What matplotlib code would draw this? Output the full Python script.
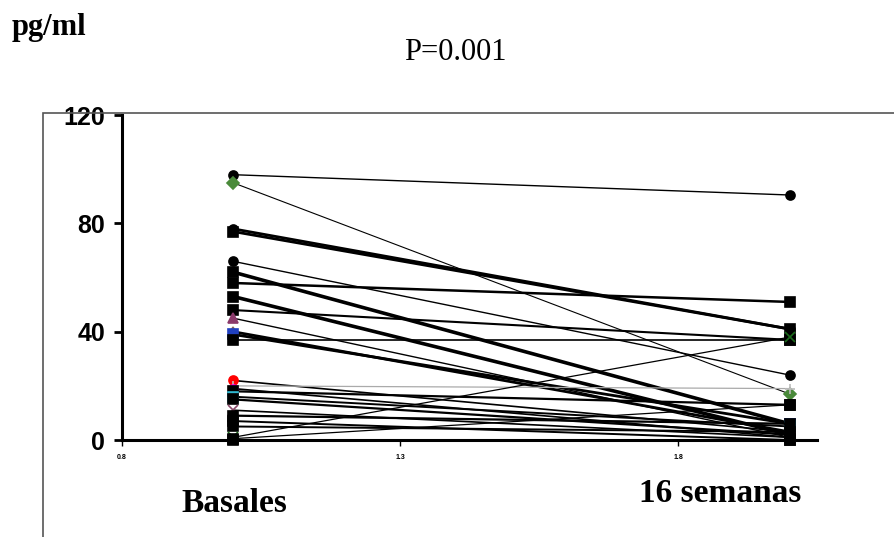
import matplotlib.pyplot as plt
from matplotlib.patches import Rectangle

# pg/ml por paciente: basal y a las 16 semanas
basales = [98, 95, 78, 77, 66, 62, 58, 53, 48, 45, 40, 39, 37, 22, 20, 19, 18, 16, 15, 11, 9, 7, 5, 1, 0.5, 0]
semana16 = [90.5, 17, 41, 41, 24, 6, 51, 2, 37, 1, 3, 6, 37, 3, 19, 1, 13, 5, 2, 1, 6, 0, 3, 38, 13, 0]
tiempos = [1, 2]
yticks = [0, 40, 80, 120]
xticks = [0.8, 1.3, 1.8]

# estilo de cada serie (marcador, color de marcador, color de linea, grosor)
marcadores = ['o', 'D', 'o', 's', 'o', 's', 's', 's', 's', '^', '^', 's', 's',
              'o', '+', 'o', 's', 's', 's', 'x', 's', 's', 's', 'x', 's', 's']
col_marc = ['black', '#4a8a3a', 'black', 'black', 'black', 'black', 'black', 'black', 'black',
            '#8b3a6b', '#8b6b5a', '#2040c0', 'black', 'red', '#bbbbbb', 'magenta', 'black',
            '#30b8d0', 'black', '#8b4a6b', 'black', 'black', 'black', '#1a6a1a', 'black', 'black']
col_linea = ['black'] * len(basales)
col_linea[14] = '#aaaaaa'
grosor = [1.0, 0.8, 2.0, 2.0, 1.0, 2.6, 1.8, 2.6, 1.5, 1.0, 2.0, 2.0, 1.2,
          1.2, 0.9, 1.2, 1.6, 1.4, 1.6, 1.2, 1.6, 1.4, 1.4, 0.9, 0.9, 2.0]

fig = plt.figure(figsize=(8.95, 5.37), dpi=100)
ax = fig.add_axes([0.1363, 0.1806, 0.777, 0.605])

for i in range(len(basales)):
    ax.plot(tiempos, [basales[i], semana16[i]], color=col_linea[i], lw=grosor[i],
            marker=marcadores[i], markersize=6.5, markerfacecolor=col_marc[i],
            markeredgecolor=col_marc[i], markeredgewidth=1.2, clip_on=False, zorder=3)

ax.set_xlim(0.8, 2.05)
ax.set_ylim(0, 120)
ax.set_yticks(yticks)
ax.set_yticklabels([str(v) for v in yticks], fontsize=18, fontweight='bold',
                   family=['Liberation Sans', 'DejaVu Sans'])
ax.set_xticks(xticks)
ax.set_xticklabels([str(v) for v in xticks], fontsize=5, fontweight='bold',
                   family=['Liberation Sans', 'DejaVu Sans'])
ax.tick_params(axis='y', direction='out', length=6, width=2, pad=6)
ax.tick_params(axis='x', direction='out', length=4, width=1, pad=6)
for s in ['top', 'right']:
    ax.spines[s].set_visible(False)
for s in ['left', 'bottom']:
    ax.spines[s].set_linewidth(2.2)

# marco exterior
fig.patches.append(Rectangle((43 / 895, -0.2), 1.0, (537 - 113) / 537 + 0.2,
                             transform=fig.transFigure, fill=False,
                             edgecolor='#555555', lw=1.2))

serif = ['Liberation Serif', 'DejaVu Serif']
fig.text(12 / 895, 1 - 27 / 537, 'pg/ml', fontsize=22, fontweight='bold',
         family=serif, ha='left', va='center')
fig.text(455 / 895, 1 - 52 / 537, 'P=0.001', fontsize=22, family=serif,
         ha='center', va='center')
fig.text(234 / 895, 1 - 503 / 537, 'Basales', fontsize=24, fontweight='bold',
         family=serif, ha='center', va='center')
fig.text(720 / 895, 1 - 494 / 537, '16 semanas', fontsize=24, fontweight='bold',
         family=serif, ha='center', va='center')

fig.savefig('out.png', dpi=100)
